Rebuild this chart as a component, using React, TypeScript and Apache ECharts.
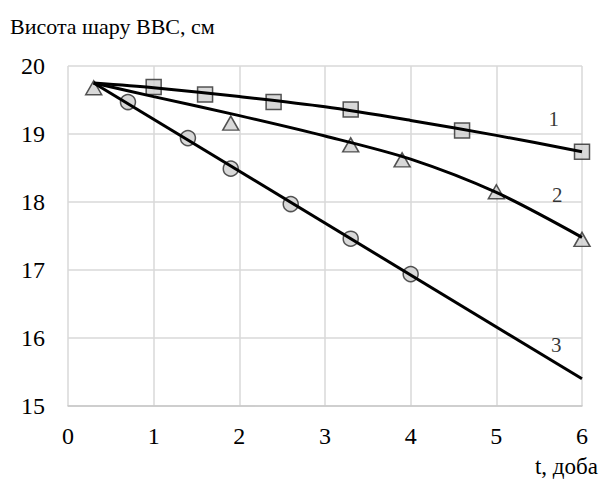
import React, { useEffect, useRef } from "react";
import * as echarts from "echarts";

const xTicks = [0, 1, 2, 3, 4, 5, 6];
const yTicks = [15, 16, 17, 18, 19, 20];

// measured points
const series1Points: [number, number][] = [
  [1, 19.69], [1.6, 19.58], [2.4, 19.47], [3.3, 19.36], [4.6, 19.05], [6, 18.74],
];
const series2Points: [number, number][] = [
  [0.3, 19.68], [1.9, 19.16], [3.3, 18.84], [3.9, 18.62], [5, 18.15], [6, 17.45],
];
const series3Points: [number, number][] = [
  [0.7, 19.47], [1.4, 18.94], [1.9, 18.49], [2.6, 17.97], [3.3, 17.46], [4.0, 16.94],
];

// trend curves
const trend1: [number, number][] = [
  [0.3, 19.75], [1, 19.68], [2, 19.55], [3, 19.4], [4, 19.2], [5, 18.98], [6, 18.74],
];
const trend2: [number, number][] = [
  [0.3, 19.75], [1, 19.55], [2, 19.27], [3, 18.97], [4, 18.63], [5, 18.14], [6, 17.48],
];
const trend3: [number, number][] = [
  [0.3, 19.75], [6, 15.4],
];

const curveLabels = [
  { text: "1", at: [5.67, 19.22] as [number, number] },
  { text: "2", at: [5.71, 18.1] as [number, number] },
  { text: "3", at: [5.7, 15.9] as [number, number] },
];

const FONT = "serif";

export default function App() {
  const ref = useRef<HTMLDivElement>(null);
  useEffect(() => {
    if (!ref.current) return;
    document.body.style.margin = "0";
    const chart = echarts.init(ref.current, undefined, { renderer: "svg" });
    const markerStyle = { color: "#d0d0d0", borderColor: "#2a2a2a", borderWidth: 1.5 };
    const lineStyle = { color: "#000", width: 3 };
    chart.setOption({
      animation: false,
      backgroundColor: "#fff",
      grid: { left: 68, right: 17, top: 66, bottom: 76 },
      xAxis: {
        type: "value",
        min: xTicks[0],
        max: xTicks[xTicks.length - 1],
        interval: 1,
        axisLine: { show: true, lineStyle: { color: "#c8c8c8", width: 1.5 } },
        axisTick: { show: false },
        splitLine: { show: true, lineStyle: { color: "#d9d9d9", width: 1.5 } },
        axisLabel: { fontFamily: FONT, fontSize: 24, color: "#000", margin: 18 },
      },
      yAxis: {
        type: "value",
        min: yTicks[0],
        max: yTicks[yTicks.length - 1],
        interval: 1,
        axisLine: { show: false },
        axisTick: { show: false },
        splitLine: { show: true, lineStyle: { color: "#d9d9d9", width: 1.5 } },
        axisLabel: { fontFamily: FONT, fontSize: 24, color: "#000", margin: 23 },
      },
      graphic: [
        {
          type: "text",
          x: 10,
          y: 26,
          style: {
            text: "Висота шару ВВС, см",
            font: `22px ${FONT}`,
            fill: "#000",
            verticalAlign: "middle",
          },
        },
        {
          type: "text",
          x: 598,
          y: 466,
          style: {
            text: "t, доба",
            font: `23px ${FONT}`,
            fill: "#000",
            align: "right",
            verticalAlign: "middle",
          },
        },
      ],
      series: [
        {
          type: "scatter",
          data: series1Points,
          symbol: "rect",
          symbolSize: 15,
          itemStyle: markerStyle,
          z: 2,
        },
        {
          type: "scatter",
          data: series2Points,
          symbol: "triangle",
          symbolSize: [16, 14],
          itemStyle: markerStyle,
          z: 2,
        },
        {
          type: "scatter",
          data: series3Points,
          symbol: "circle",
          symbolSize: 15,
          itemStyle: markerStyle,
          z: 2,
        },
        { type: "line", data: trend1, smooth: 0.3, showSymbol: false, lineStyle, z: 3 },
        { type: "line", data: trend2, smooth: 0.3, showSymbol: false, lineStyle, z: 3 },
        { type: "line", data: trend3, showSymbol: false, lineStyle, z: 3 },
        {
          type: "scatter",
          data: curveLabels.map((c) => ({ value: c.at, name: c.text })),
          symbolSize: 0,
          label: {
            show: true,
            position: "inside",
            formatter: "{b}",
            fontFamily: FONT,
            fontSize: 21,
            color: "#000",
          },
          z: 4,
        },
      ],
    });
    return () => chart.dispose();
  }, []);
  return <div ref={ref} style={{ width: 599, height: 482 }} />;
}
